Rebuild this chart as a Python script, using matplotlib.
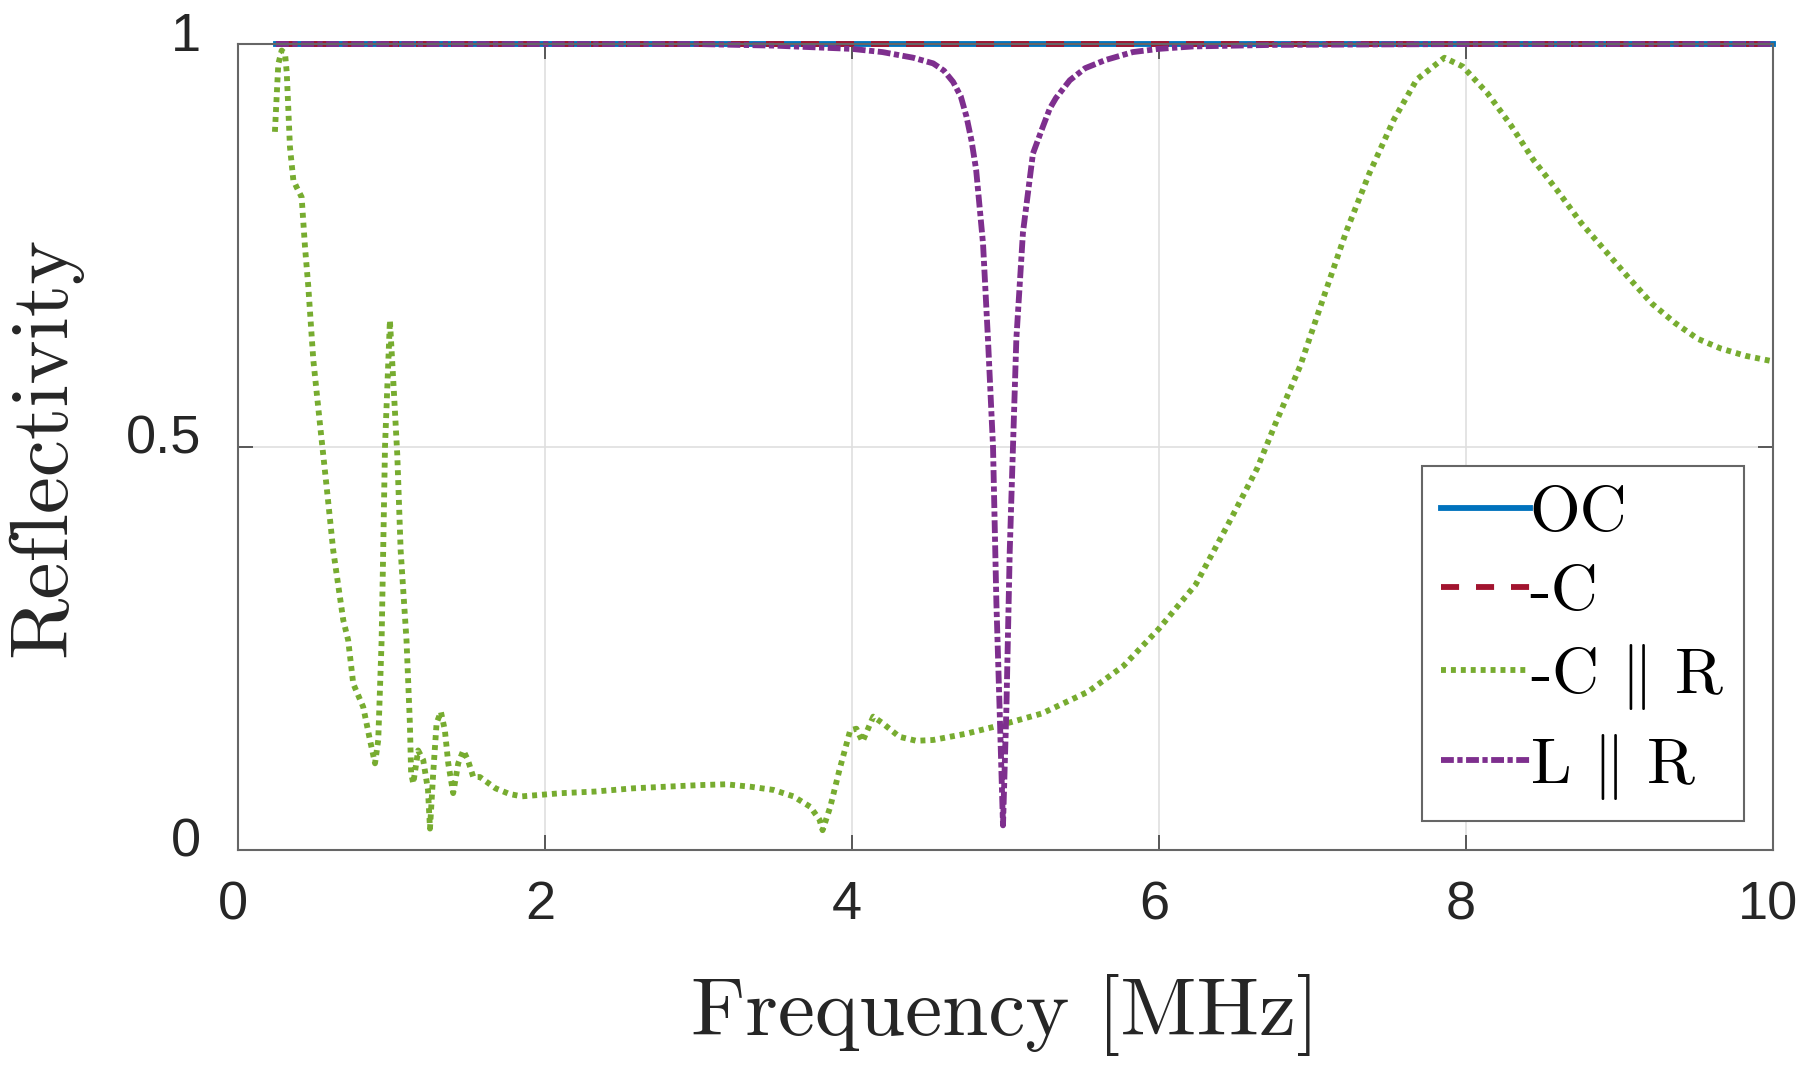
import numpy as np
import matplotlib
matplotlib.use('Agg')
import matplotlib.pyplot as plt
import matplotlib.transforms as mtransforms

plt.rcParams['mathtext.fontset'] = 'cm'
plt.rcParams['axes.unicode_minus'] = False

# flat curves (OC and -C stay at 1)
f_flat = [0.25, 10.0]
oc = [1.0, 1.0]
c_only = [1.0, 1.0]

# -C || R
f_cr = [0.243, 0.265, 0.287, 0.309, 0.320, 0.341, 0.363, 0.385, 0.417, 0.439,
        0.46, 0.493, 0.536, 0.58, 0.623, 0.688, 0.72, 0.753, 0.818, 0.862,
        0.895, 0.916, 0.938, 0.96, 0.992, 1.018, 1.04, 1.062, 1.10, 1.122,
        1.13, 1.144, 1.176, 1.209, 1.24, 1.253, 1.274, 1.296, 1.324, 1.35,
        1.372, 1.404, 1.437, 1.47, 1.50, 1.535, 1.578, 1.68, 1.77, 1.85,
        1.98, 2.11, 2.33, 2.576, 2.79, 3.01, 3.18, 3.34, 3.49, 3.62,
        3.73, 3.79, 3.81, 3.86, 3.92, 3.99, 4.03, 4.07, 4.14, 4.2,
        4.31, 4.42, 4.53, 4.75, 4.96, 5.24, 5.54, 5.77, 6.0, 6.24, 6.46,
        6.64, 6.76, 6.92, 7.07, 7.22, 7.37, 7.53, 7.68, 7.86, 7.98,
        8.14, 8.29, 8.44, 8.6, 8.75, 8.9, 9.05, 9.21, 9.36, 9.51,
        9.66, 9.82, 10.0]
r_cr = [0.891, 0.975, 0.992, 0.988, 0.965, 0.872, 0.831, 0.822, 0.81, 0.748,
        0.70, 0.608, 0.529, 0.45, 0.371, 0.285, 0.26, 0.206, 0.177, 0.136,
        0.107, 0.136, 0.26, 0.50, 0.657, 0.568, 0.49, 0.371, 0.26, 0.157,
        0.095, 0.082, 0.123, 0.111, 0.074, 0.026, 0.095, 0.157, 0.171, 0.148,
        0.107, 0.07, 0.107, 0.123, 0.111, 0.09, 0.09, 0.076, 0.069, 0.066,
        0.068, 0.07, 0.072, 0.076, 0.078, 0.080, 0.081, 0.078, 0.074, 0.066,
        0.053, 0.037, 0.024, 0.053, 0.099, 0.148, 0.150, 0.134, 0.165, 0.157,
        0.14, 0.135, 0.136, 0.144, 0.154, 0.169, 0.196, 0.228, 0.274, 0.329, 0.407,
        0.473, 0.529, 0.60, 0.684, 0.767, 0.839, 0.906, 0.956, 0.983, 0.972,
        0.939, 0.90, 0.856, 0.817, 0.778, 0.745, 0.712, 0.678, 0.654, 0.634,
        0.622, 0.613, 0.606]

# L || R
f_lr = [0.25, 3.0, 3.5, 4.0, 4.2, 4.4, 4.53, 4.6, 4.66, 4.71, 4.747, 4.78, 4.81,
        4.855, 4.887, 4.92, 4.942, 4.963, 4.985, 5.007, 5.029, 5.05, 5.072,
        5.115, 5.18, 5.24, 5.29, 5.33, 5.42, 5.52, 5.65, 5.83, 6.0, 6.22, 6.76, 8.0, 10.0]
r_lr = [1.0, 1.0, 0.998, 0.994, 0.99, 0.983, 0.976, 0.967, 0.953, 0.935, 0.91, 0.88, 0.844,
        0.752, 0.634, 0.50, 0.306, 0.174, 0.03, 0.174, 0.371, 0.50, 0.634,
        0.766, 0.864, 0.895, 0.92, 0.933, 0.955, 0.97, 0.98, 0.99, 0.994, 0.997, 0.999, 1.0, 1.0]

xticks = [0, 2, 4, 6, 8, 10]
yticks = [0, 0.5, 1]
ytick_labels = ['0', '0.5', '1']

fig = plt.figure(figsize=(18, 10.74), dpi=100)
ax = fig.add_axes([0.132, 0.209, 0.853, 0.750])

lw = 4.2
ax.plot(f_flat, oc, '-', color='#0072BD', lw=lw, label='OC', clip_on=False)
ax.plot(f_flat, c_only, color='#A2142F', lw=lw, dashes=(3.1, 2.9), label='-C', clip_on=False)
ax.plot(f_cr, r_cr, color='#77AC30', lw=lw, dashes=(0.85, 0.85), label=r'-C $\|$ R', clip_on=False)
ax.plot(f_lr, r_lr, color='#7E2F8E', lw=lw, dashes=(2.2, 0.6, 0.9, 0.6), label=r'L $\|$ R', clip_on=False)

ax.set_xlim(0, 10)
ax.set_ylim(0, 1)
ax.set_xticks(xticks)
ax.set_yticks(yticks)
ax.set_yticklabels(ytick_labels)
ax.grid(True, color='#dfdfdf', lw=1.2)
ax.set_axisbelow(True)
ax.tick_params(direction='in', length=11, width=1.2, top=True, right=True,
               colors='#404040', labelcolor='#262626', labelsize=39)
ax.tick_params(axis='x', pad=22)
ax.tick_params(axis='y', pad=26)
dx = mtransforms.ScaledTranslation(-3.5 / 72, 0, fig.dpi_scale_trans)
dy = mtransforms.ScaledTranslation(0, 9 / 72, fig.dpi_scale_trans)
for lab in ax.get_xticklabels():
    lab.set_family('Liberation Sans')
    lab.set_transform(lab.get_transform() + dx)
for lab in ax.get_yticklabels():
    lab.set_family('Liberation Sans')
    lab.set_transform(lab.get_transform() + dy)
for s in ax.spines.values():
    s.set_color('#666666')
    s.set_linewidth(1.5)

ax.set_xlabel('Frequency [MHz]', fontsize=60, family='cmr10', color='#262626')
ax.set_ylabel('Reflectivity', fontsize=60, family='cmr10', color='#262626')
ax.xaxis.label.set_va('center')
ax.xaxis.set_label_coords(0.5, -0.206)
ax.yaxis.label.set_va('center')
ax.yaxis.label.set_ha('center')
ax.yaxis.set_label_coords(-0.126, 0.5)

leg = ax.legend(loc='lower right', bbox_to_anchor=(0.981, 0.035), borderaxespad=0,
                prop={'family': 'cmr10', 'size': 47}, handlelength=1.35, handletextpad=0.0,
                labelspacing=0.30, borderpad=0.3, fancybox=False, framealpha=1)
leg.get_frame().set_edgecolor('#666666')
leg.get_frame().set_linewidth(1.5)

fig.savefig('out.png', dpi=100)
